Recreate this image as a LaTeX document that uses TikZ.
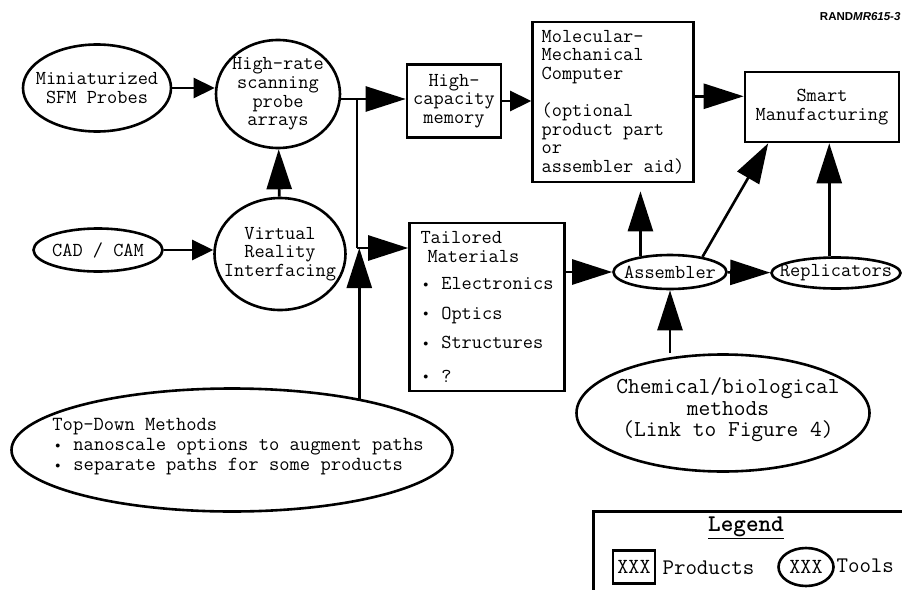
\documentclass[tikz,border=0pt]{standalone}
\usepackage{fontspec}
\setsansfont{Liberation Sans}
\usetikzlibrary{arrows.meta,shapes}
\newcommand{\dotitem}{\makebox[1.05em][l]{\hspace{0.15em}\raisebox{0.13em}{$\scriptscriptstyle\bullet$}}}

\begin{document}
\begin{tikzpicture}[
  x=1pt, y=-1pt,
  font=\ttfamily\fontsize{19.8}{18.6}\selectfont,
  box/.style={draw, line width=2.6pt, inner sep=0pt, align=center},
  tool/.style={draw, ellipse, line width=2.6pt, inner sep=0pt},
  link/.style={line width=2.6pt},
  arrow/.style={link, -{Triangle[length=40pt, width=25pt]}},
  small arrow/.style={link, -{Triangle[length=21pt, width=20pt]}},
]
\useasboundingbox (0,0) rectangle (902,589);
\clip (0,0) rectangle (902,589);
\node[tool, minimum width=148pt, minimum height=87pt, label={[align=center]center:Miniaturized\\SFM Probes}] (sfm) at (97,88) {};
\node[tool, minimum width=124pt, minimum height=108pt, label={[align=center]center:High-rate\\scanning\\probe\\arrays}] (scan) at (278,94) {};
\node[tool, minimum width=131pt, minimum height=112pt, label={[align=center]center:Virtual\\Reality\\Interfacing}] (vr) at (280,254) {};
\node[tool, minimum width=129pt, minimum height=43pt, label={center:CAD / CAM}] (cad) at (98,250) {};
\node[box, minimum width=94pt, minimum height=73pt] (mem) at (454,101) {High-\\capacity\\memory};
\node[box, minimum width=161pt, minimum height=160pt, align=left] (mmc) at (613,102) {Molecular-\\Mechanical\\Computer\\[18.6pt](optional\\product part\\or\\assembler aid)};
\node[box, minimum width=154pt, minimum height=70pt] (smart) at (822,107) {Smart\\Manufacturing};
\node[box, minimum width=155pt, minimum height=168pt, align=left] (tailored) at (487,307) {Tailored\\\hspace*{7pt}Materials\\[9pt]\dotitem Electronics\\[11pt]\dotitem Optics\\[11pt]\dotitem Structures\\[15pt]\dotitem ?};
\node[tool, minimum width=113pt, minimum height=34pt, label={center:Assembler}] (asm) at (670,272) {};
\node[tool, minimum width=129pt, minimum height=31pt, label={center:Replicators}] (repl) at (836,273) {};
\node[tool, minimum width=293pt, minimum height=117pt, label={[align=center, font=\ttfamily\fontsize{22.8}{21.5}\selectfont, xshift=5pt, yshift=3pt]center:Chemical/biological\\methods\\(Link to Figure 4)}] (chem) at (723,413) {};
\node[tool, minimum width=441pt, minimum height=123pt, label={[align=left, font=\ttfamily\fontsize{20}{20}\selectfont, xshift=6pt, yshift=3pt]center:Top-Down Methods\\\dotitem nanoscale options to augment paths\\\dotitem separate paths for some products}] (topdown) at (232,450) {};
\node[anchor=east, font=\sffamily\bfseries\fontsize{11.5}{12}\selectfont] (figid) at (904,17) {RAND\textit{MR615-3}};
% legend
\node[draw, line width=2.6pt, minimum width=330pt, minimum height=100pt, anchor=north west] (legend) at (592,510) {};
\node[font=\ttfamily\bfseries\fontsize{24}{24}\selectfont] (legtitle) at (746,528) {\underline{Legend}};
\node[box, minimum width=42pt, minimum height=33pt, font=\ttfamily\fontsize{21.5}{21}\selectfont] (legbox) at (634,567) {XXX};
\node[anchor=west, font=\ttfamily\fontsize{22.3}{22}\selectfont] (legprod) at (659,568) {Products};
\node[tool, minimum width=55pt, minimum height=38pt, label={[font=\ttfamily\fontsize{21.5}{21}\selectfont]center:XXX}] (legtool) at (806,567) {};
\node[anchor=west, font=\ttfamily\fontsize{22.3}{22}\selectfont] (legtools) at (833,566) {Tools};
\coordinate (split) at (357,99);
\coordinate (merge) at (357,248);
\draw[small arrow] (sfm.east) -- (sfm.east -| scan.west);
\draw[arrow] (vr) -- (scan);
\draw[small arrow] (cad.east) -- (cad.east -| vr.west);
\draw[link] (split -| scan.east) -- (split) -- (merge);
\draw[arrow] (split) -- (split -| mem.west);
\draw[arrow] (merge) -- (merge -| tailored.west);
\draw[arrow] (topdown.22.6) -- (topdown.22.6 |- merge);
\draw[small arrow] (mem) -- (mem -| mmc.west);
\draw[arrow] (mmc.4) -- (mmc.4 -| smart.west);
\draw[arrow] (asm -| tailored.east) -- (asm);
\draw[arrow] (asm) -- (repl);
\draw[arrow, shorten >=8pt] (asm.152) -- (asm.152 |- mmc.south);
\draw[arrow] (asm.25) -- (smart.-146);
\draw[arrow] (repl.112) -- (repl.112 |- smart.south);
\draw[arrow] (chem.north -| asm) -- (asm);
\end{tikzpicture}
\end{document}
